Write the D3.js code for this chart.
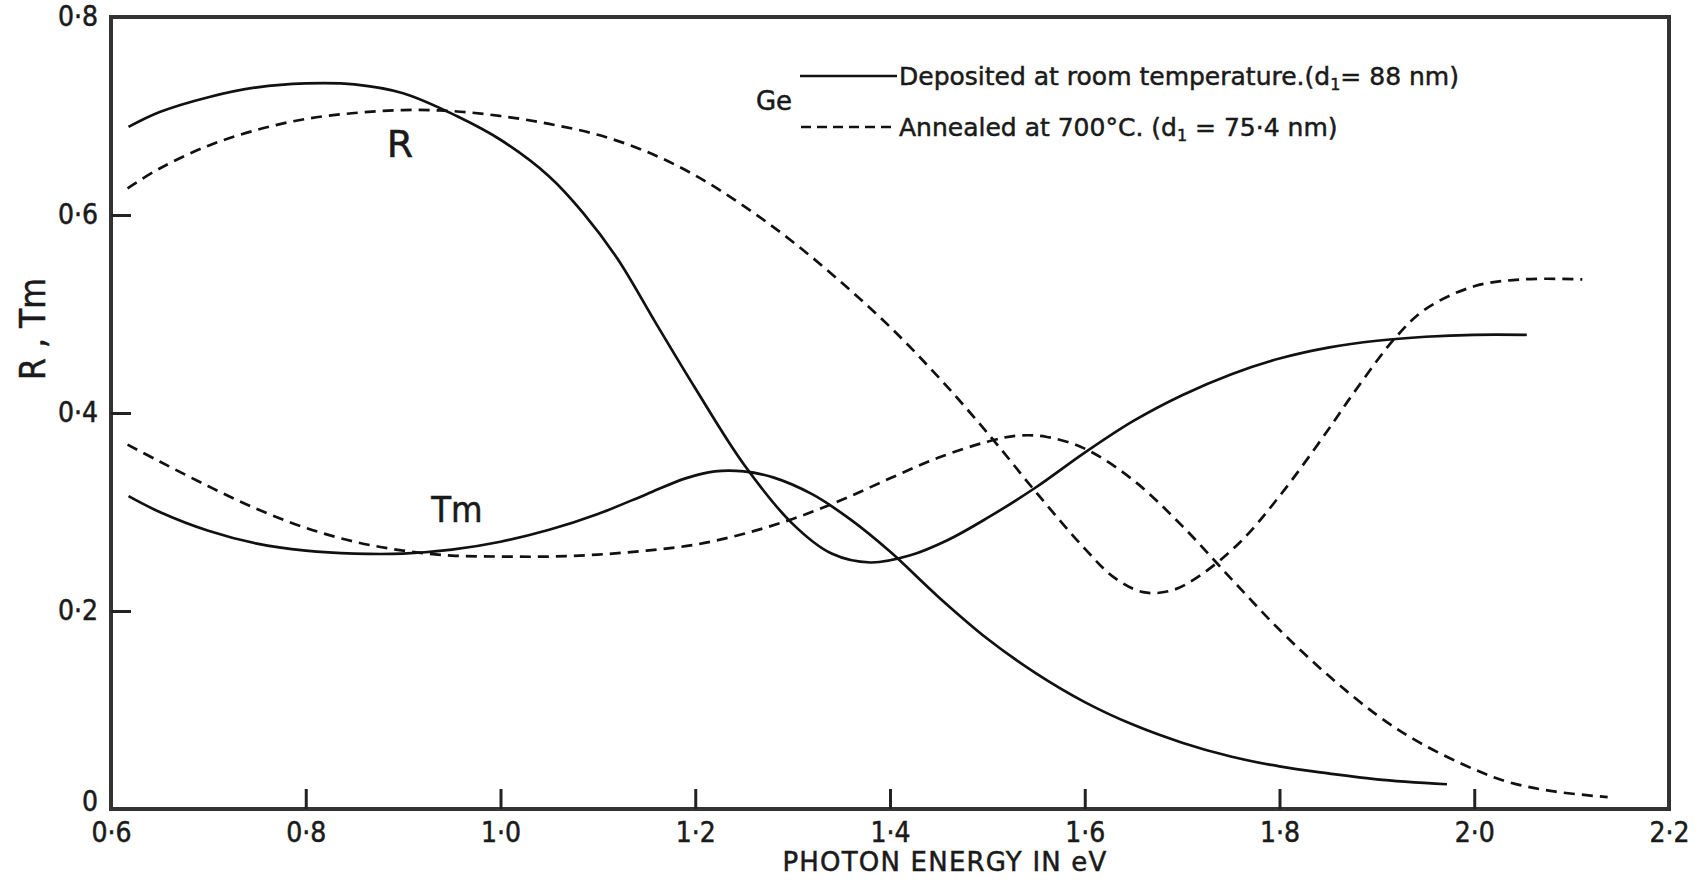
<!DOCTYPE html>
<html>
<head>
<meta charset="utf-8">
<script src="https://cdn.jsdelivr.net/npm/d3@7"></script>
<style>
  html, body { margin: 0; padding: 0; background: #fff; }
  svg { display: block; }
  text { font-family: "DejaVu Sans", sans-serif; fill: #1a1a1a; stroke: #1a1a1a; stroke-width: 0.5; }
  .cond { font-family: "DejaVu Sans Condensed", "DejaVu Sans", sans-serif; font-stretch: condensed; }
</style>
</head>
<body>
<svg id="chart" width="1704" height="881"></svg>
<script>
// Ge films: reflectance R and transmittance Tm against photon energy (eV)
const xTicks = [0.6, 0.8, 1.0, 1.2, 1.4, 1.6, 1.8, 2.0, 2.2];
const yTicks = [0, 0.2, 0.4, 0.6, 0.8];

// Deposited at room temperature (solid)
const depositedR = [
  [0.618, 0.689], [0.65, 0.704], [0.70, 0.719], [0.75, 0.729], [0.80, 0.733],
  [0.85, 0.732], [0.90, 0.723], [0.955, 0.700], [1.00, 0.676], [1.05, 0.639],
  [1.085, 0.602], [1.12, 0.556], [1.16, 0.490], [1.20, 0.425], [1.25, 0.348],
  [1.30, 0.288], [1.34, 0.258], [1.38, 0.249], [1.42, 0.256], [1.46, 0.272],
  [1.50, 0.294], [1.55, 0.325], [1.60, 0.360], [1.65, 0.392], [1.70, 0.418],
  [1.75, 0.439], [1.80, 0.455], [1.85, 0.466], [1.90, 0.473], [1.95, 0.477],
  [2.00, 0.479], [2.054, 0.479]
];
const depositedTm = [
  [0.618, 0.316], [0.65, 0.300], [0.70, 0.281], [0.75, 0.268], [0.80, 0.261],
  [0.85, 0.258], [0.90, 0.258], [0.95, 0.262], [1.00, 0.270], [1.05, 0.282],
  [1.10, 0.298], [1.15, 0.318], [1.19, 0.334], [1.22, 0.341], [1.25, 0.341],
  [1.28, 0.335], [1.32, 0.318], [1.36, 0.292], [1.40, 0.260], [1.45, 0.214],
  [1.50, 0.172], [1.55, 0.137], [1.60, 0.108], [1.65, 0.085], [1.70, 0.067],
  [1.75, 0.053], [1.80, 0.043], [1.85, 0.036], [1.90, 0.030], [1.972, 0.025]
];

// Annealed at 700 °C (dashed)
const annealedR = [
  [0.617, 0.627], [0.65, 0.647], [0.70, 0.670], [0.75, 0.686], [0.80, 0.697],
  [0.85, 0.703], [0.90, 0.706], [0.95, 0.705], [1.00, 0.700], [1.05, 0.692],
  [1.10, 0.681], [1.15, 0.664], [1.20, 0.640], [1.25, 0.609], [1.30, 0.573],
  [1.35, 0.532], [1.40, 0.487], [1.45, 0.436], [1.50, 0.380], [1.55, 0.320],
  [1.60, 0.263], [1.63, 0.234], [1.66, 0.219], [1.69, 0.221], [1.72, 0.237],
  [1.76, 0.270], [1.80, 0.316], [1.85, 0.383], [1.876, 0.420], [1.919, 0.476],
  [1.95, 0.505], [2.00, 0.528], [2.05, 0.535], [2.111, 0.535]
];
const annealedTm = [
  [0.617, 0.368], [0.65, 0.351], [0.70, 0.326], [0.75, 0.303], [0.80, 0.284],
  [0.85, 0.270], [0.90, 0.261], [0.95, 0.256], [1.00, 0.255], [1.05, 0.255],
  [1.10, 0.257], [1.15, 0.261], [1.20, 0.267], [1.25, 0.278], [1.30, 0.293],
  [1.35, 0.312], [1.40, 0.334], [1.45, 0.355], [1.50, 0.371], [1.53, 0.377],
  [1.56, 0.376], [1.60, 0.364], [1.65, 0.332], [1.70, 0.286], [1.75, 0.233],
  [1.80, 0.181], [1.85, 0.135], [1.90, 0.095], [1.944, 0.067], [2.00, 0.040],
  [2.036, 0.027], [2.08, 0.018], [2.137, 0.012]
];

const svg = d3.select("#chart");
const x = d3.scaleLinear().domain([0.6, 2.2]).range([111, 1669]);
const y = d3.scaleLinear().domain([0, 0.8]).range([809, 17]);

const fmt = d => d === 0 ? "0" : d3.format(".1f")(d).replace(".", "\u00B7");

// frame
svg.append("rect")
  .attr("x", x.range()[0]).attr("y", y.range()[1])
  .attr("width", x.range()[1] - x.range()[0])
  .attr("height", y.range()[0] - y.range()[1])
  .attr("fill", "none").attr("stroke", "#333").attr("stroke-width", 4);

// bottom axis, ticks pointing inward
const gx = svg.append("g").attr("transform", `translate(0,${y(0)})`)
  .call(d3.axisBottom(x).tickValues(xTicks).tickFormat(fmt).tickSizeInner(-20).tickSizeOuter(0).tickPadding(13));
gx.select(".domain").remove();
gx.selectAll(".tick line").attr("stroke", "#222").attr("stroke-width", 3)
  .filter(d => d === xTicks[0] || d === xTicks[xTicks.length - 1]).remove();
gx.selectAll(".tick text").attr("class", "cond").attr("font-size", 28).attr("fill", "#1a1a1a")
  .style("font-family", "'DejaVu Sans Condensed', 'DejaVu Sans', sans-serif");

// left axis, ticks pointing inward
const gy = svg.append("g").attr("transform", `translate(${x(0.6)},0)`)
  .call(d3.axisLeft(y).tickValues(yTicks).tickFormat(fmt).tickSizeInner(-20).tickSizeOuter(0).tickPadding(13));
gy.select(".domain").remove();
gy.selectAll(".tick line").attr("stroke", "#222").attr("stroke-width", 3)
  .filter(d => d === yTicks[0] || d === yTicks[yTicks.length - 1]).remove();
gy.selectAll(".tick text").attr("class", "cond").attr("font-size", 28).attr("fill", "#1a1a1a")
  .style("font-family", "'DejaVu Sans Condensed', 'DejaVu Sans', sans-serif");
// the zero label sits a little above the corner, clear of the x labels
gy.selectAll(".tick text").filter(d => d === 0).attr("dy", "0.05em");

// axis titles
svg.append("text").attr("x", 945).attr("y", 871).attr("text-anchor", "middle")
  .attr("font-size", 26).attr("letter-spacing", 1.2).text("PHOTON ENERGY IN eV");
svg.append("text").attr("class", "cond").attr("transform", "translate(45,329) rotate(-90)")
  .attr("text-anchor", "middle").attr("font-size", 35).text("R , Tm");

// curves
const line = d3.line().x(d => x(d[0])).y(d => y(d[1])).curve(d3.curveCatmullRom.alpha(0.5));
const series = [
  { data: depositedR, dash: null },
  { data: depositedTm, dash: null },
  { data: annealedR, dash: "11,7" },
  { data: annealedTm, dash: "11,7" }
];
svg.append("g").selectAll("path").data(series).join("path")
  .attr("d", d => line(d.data))
  .attr("fill", "none").attr("stroke", "#111").attr("stroke-width", 2.7)
  .attr("stroke-dasharray", d => d.dash);

// curve labels
svg.append("text").attr("x", 400).attr("y", 157).attr("text-anchor", "middle")
  .attr("font-size", 38).text("R");
svg.append("text").attr("class", "cond").attr("x", 457).attr("y", 522).attr("text-anchor", "middle")
  .attr("font-size", 36).text("Tm");

// legend
const lg = svg.append("g");
lg.append("text").attr("x", 774).attr("y", 110).attr("text-anchor", "middle")
  .attr("font-size", 26).text("Ge");
lg.append("line").attr("x1", 800).attr("x2", 897).attr("y1", 76).attr("y2", 76)
  .attr("stroke", "#111").attr("stroke-width", 2.4);
lg.append("line").attr("x1", 801).attr("x2", 896).attr("y1", 127).attr("y2", 127)
  .attr("stroke", "#111").attr("stroke-width", 2.4).attr("stroke-dasharray", "10,6");

function legendText(yPos, before, sub, after) {
  const t = lg.append("text").attr("x", 899).attr("y", yPos).attr("font-size", 25);
  t.append("tspan").text(before);
  t.append("tspan").attr("font-size", 16).attr("dy", 5).text(sub);
  t.append("tspan").attr("dy", -5).text(after);
}
legendText(85, "Deposited at room temperature.(d", "1", "= 88 nm)");
legendText(136, "Annealed at  700\u00B0C. (d", "1", " = 75\u00B74 nm)");
</script>
</body>
</html>
